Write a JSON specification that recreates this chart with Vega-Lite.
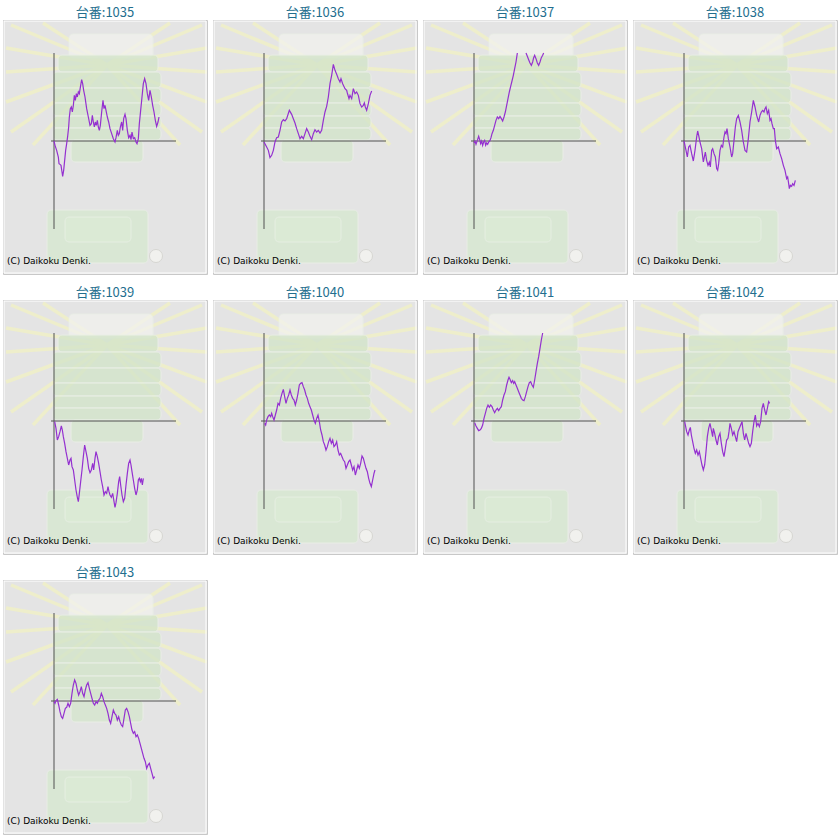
{
  "$schema": "https://vega.github.io/schema/vega-lite/v6.json",
  "background": "white",
  "padding": {"left": 2, "top": 6, "right": 0, "bottom": 0},
  "data": {"values": [
    {"p":"台番:1035","g":0,"d":0},{"p":"台番:1035","g":50,"d":-217},{"p":"台番:1035","g":133,"d":-467},{"p":"台番:1035","g":217,"d":-800},{"p":"台番:1035","g":250,"d":-1133},{"p":"台番:1035","g":300,"d":-1167},{"p":"台番:1035","g":350,"d":-1217},{"p":"台番:1035","g":400,"d":-1550},{"p":"台番:1035","g":433,"d":-1767},{"p":"台番:1035","g":483,"d":-1467},{"p":"台番:1035","g":533,"d":-967},{"p":"台番:1035","g":583,"d":-467},{"p":"台番:1035","g":633,"d":-133},{"p":"台番:1035","g":683,"d":233},{"p":"台番:1035","g":733,"d":700},{"p":"台番:1035","g":767,"d":1200},{"p":"台番:1035","g":817,"d":1617},{"p":"台番:1035","g":867,"d":1700},{"p":"台番:1035","g":917,"d":1450},{"p":"台番:1035","g":967,"d":1783},{"p":"台番:1035","g":1017,"d":2283},{"p":"台番:1035","g":1067,"d":2033},{"p":"台番:1035","g":1117,"d":2367},{"p":"台番:1035","g":1167,"d":2200},{"p":"台番:1035","g":1217,"d":2450},{"p":"台番:1035","g":1267,"d":2367},{"p":"台番:1035","g":1333,"d":2783},{"p":"台番:1035","g":1383,"d":3067},{"p":"台番:1035","g":1433,"d":2867},{"p":"台番:1035","g":1483,"d":2533},{"p":"台番:1035","g":1550,"d":2200},{"p":"台番:1035","g":1633,"d":1617},{"p":"台番:1035","g":1717,"d":1200},{"p":"台番:1035","g":1800,"d":783},{"p":"台番:1035","g":1867,"d":867},{"p":"台番:1035","g":1917,"d":1283},{"p":"台番:1035","g":1967,"d":950},{"p":"台番:1035","g":2017,"d":700},{"p":"台番:1035","g":2067,"d":950},{"p":"台番:1035","g":2117,"d":783},{"p":"台番:1035","g":2167,"d":1033},{"p":"台番:1035","g":2217,"d":700},{"p":"台番:1035","g":2267,"d":533},{"p":"台番:1035","g":2317,"d":783},{"p":"台番:1035","g":2383,"d":1450},{"p":"台番:1035","g":2450,"d":2033},{"p":"台番:1035","g":2500,"d":1617},{"p":"台番:1035","g":2550,"d":1783},{"p":"台番:1035","g":2600,"d":1533},{"p":"台番:1035","g":2667,"d":1200},{"p":"台番:1035","g":2733,"d":950},{"p":"台番:1035","g":2800,"d":617},{"p":"台番:1035","g":2883,"d":367},{"p":"台番:1035","g":2967,"d":117},{"p":"台番:1035","g":3050,"d":-50},{"p":"台番:1035","g":3100,"d":167},{"p":"台番:1035","g":3167,"d":533},{"p":"台番:1035","g":3217,"d":283},{"p":"台番:1035","g":3267,"d":367},{"p":"台番:1035","g":3317,"d":700},{"p":"台番:1035","g":3383,"d":950},{"p":"台番:1035","g":3433,"d":533},{"p":"台番:1035","g":3483,"d":1117},{"p":"台番:1035","g":3550,"d":1333},{"p":"台番:1035","g":3600,"d":1117},{"p":"台番:1035","g":3667,"d":533},{"p":"台番:1035","g":3733,"d":167},{"p":"台番:1035","g":3800,"d":283},{"p":"台番:1035","g":3850,"d":67},{"p":"台番:1035","g":3900,"d":450},{"p":"台番:1035","g":3967,"d":117},{"p":"台番:1035","g":4033,"d":167},{"p":"台番:1035","g":4100,"d":-50},{"p":"台番:1035","g":4150,"d":-133},{"p":"台番:1035","g":4217,"d":117},{"p":"台番:1035","g":4267,"d":867},{"p":"台番:1035","g":4333,"d":1533},{"p":"台番:1035","g":4400,"d":2200},{"p":"台番:1035","g":4467,"d":2867},{"p":"台番:1035","g":4533,"d":3117},{"p":"台番:1035","g":4600,"d":2867},{"p":"台番:1035","g":4667,"d":2367},{"p":"台番:1035","g":4733,"d":2033},{"p":"台番:1035","g":4800,"d":2533},{"p":"台番:1035","g":4867,"d":2200},{"p":"台番:1035","g":4933,"d":1783},{"p":"台番:1035","g":5000,"d":1450},{"p":"台番:1035","g":5067,"d":1033},{"p":"台番:1035","g":5133,"d":733},{"p":"台番:1035","g":5200,"d":950},{"p":"台番:1035","g":5250,"d":1200},

    {"p":"台番:1036","g":0,"d":-50},{"p":"台番:1036","g":133,"d":-300},{"p":"台番:1036","g":217,"d":-467},{"p":"台番:1036","g":300,"d":-833},{"p":"台番:1036","g":383,"d":-717},{"p":"台番:1036","g":467,"d":-467},{"p":"台番:1036","g":550,"d":-50},{"p":"台番:1036","g":633,"d":167},{"p":"台番:1036","g":717,"d":200},{"p":"台番:1036","g":800,"d":533},{"p":"台番:1036","g":883,"d":950},{"p":"台番:1036","g":967,"d":1067},{"p":"台番:1036","g":1050,"d":1000},{"p":"台番:1036","g":1133,"d":1117},{"p":"台番:1036","g":1267,"d":1533},{"p":"台番:1036","g":1383,"d":1333},{"p":"台番:1036","g":1467,"d":1117},{"p":"台番:1036","g":1550,"d":900},{"p":"台番:1036","g":1633,"d":617},{"p":"台番:1036","g":1717,"d":367},{"p":"台番:1036","g":1800,"d":117},{"p":"台番:1036","g":1883,"d":233},{"p":"台番:1036","g":1967,"d":117},{"p":"台番:1036","g":2050,"d":367},{"p":"台番:1036","g":2133,"d":617},{"p":"台番:1036","g":2217,"d":450},{"p":"台番:1036","g":2300,"d":233},{"p":"台番:1036","g":2383,"d":67},{"p":"台番:1036","g":2467,"d":367},{"p":"台番:1036","g":2550,"d":567},{"p":"台番:1036","g":2633,"d":450},{"p":"台番:1036","g":2717,"d":533},{"p":"台番:1036","g":2800,"d":400},{"p":"台番:1036","g":2883,"d":533},{"p":"台番:1036","g":2967,"d":1033},{"p":"台番:1036","g":3050,"d":1450},{"p":"台番:1036","g":3133,"d":1733},{"p":"台番:1036","g":3217,"d":2200},{"p":"台番:1036","g":3300,"d":2867},{"p":"台番:1036","g":3383,"d":3283},{"p":"台番:1036","g":3467,"d":3833},{"p":"台番:1036","g":3550,"d":3533},{"p":"台番:1036","g":3633,"d":3333},{"p":"台番:1036","g":3717,"d":3117},{"p":"台番:1036","g":3800,"d":2950},{"p":"台番:1036","g":3850,"d":3117},{"p":"台番:1036","g":3933,"d":2867},{"p":"台番:1036","g":4050,"d":2617},{"p":"台番:1036","g":4133,"d":2533},{"p":"台番:1036","g":4167,"d":2400},{"p":"台番:1036","g":4250,"d":2117},{"p":"台番:1036","g":4300,"d":2283},{"p":"台番:1036","g":4383,"d":2117},{"p":"台番:1036","g":4467,"d":2617},{"p":"台番:1036","g":4550,"d":2367},{"p":"台番:1036","g":4633,"d":2450},{"p":"台番:1036","g":4717,"d":2283},{"p":"台番:1036","g":4800,"d":1867},{"p":"台番:1036","g":4883,"d":1700},{"p":"台番:1036","g":4967,"d":1783},{"p":"台番:1036","g":5017,"d":1900},{"p":"台番:1036","g":5067,"d":1700},{"p":"台番:1036","g":5133,"d":1533},{"p":"台番:1036","g":5217,"d":1867},{"p":"台番:1036","g":5300,"d":2283},{"p":"台番:1036","g":5383,"d":2500},

    {"p":"台番:1037","s":"a","g":0,"d":-100},{"p":"台番:1037","s":"a","g":50,"d":0},{"p":"台番:1037","s":"a","g":100,"d":-167},{"p":"台番:1037","s":"a","g":167,"d":33},{"p":"台番:1037","s":"a","g":233,"d":233},{"p":"台番:1037","s":"a","g":283,"d":67},{"p":"台番:1037","s":"a","g":333,"d":-133},{"p":"台番:1037","s":"a","g":383,"d":0},{"p":"台番:1037","s":"a","g":433,"d":-217},{"p":"台番:1037","s":"a","g":483,"d":-50},{"p":"台番:1037","s":"a","g":533,"d":33},{"p":"台番:1037","s":"a","g":583,"d":-217},{"p":"台番:1037","s":"a","g":633,"d":-100},{"p":"台番:1037","s":"a","g":683,"d":-167},{"p":"台番:1037","s":"a","g":733,"d":-50},{"p":"台番:1037","s":"a","g":800,"d":33},{"p":"台番:1037","s":"a","g":850,"d":167},{"p":"台番:1037","s":"a","g":900,"d":367},{"p":"台番:1037","s":"a","g":967,"d":533},{"p":"台番:1037","s":"a","g":1033,"d":783},{"p":"台番:1037","s":"a","g":1100,"d":1033},{"p":"台番:1037","s":"a","g":1167,"d":1200},{"p":"台番:1037","s":"a","g":1233,"d":1117},{"p":"台番:1037","s":"a","g":1300,"d":1233},{"p":"台番:1037","s":"a","g":1367,"d":1117},{"p":"台番:1037","s":"a","g":1433,"d":1000},{"p":"台番:1037","s":"a","g":1500,"d":1200},{"p":"台番:1037","s":"a","g":1567,"d":1450},{"p":"台番:1037","s":"a","g":1633,"d":1783},{"p":"台番:1037","s":"a","g":1700,"d":2117},{"p":"台番:1037","s":"a","g":1767,"d":2450},{"p":"台番:1037","s":"a","g":1833,"d":2733},{"p":"台番:1037","s":"a","g":1900,"d":3000},{"p":"台番:1037","s":"a","g":1967,"d":3283},{"p":"台番:1037","s":"a","g":2033,"d":3617},{"p":"台番:1037","s":"a","g":2100,"d":3950},{"p":"台番:1037","s":"a","g":2150,"d":4283},{"p":"台番:1037","s":"a","g":2167,"d":4400},
    {"p":"台番:1037","s":"b","g":2600,"d":4400},{"p":"台番:1037","s":"b","g":2667,"d":4233},{"p":"台番:1037","s":"b","g":2733,"d":4067},{"p":"台番:1037","s":"b","g":2800,"d":3900},{"p":"台番:1037","s":"b","g":2867,"d":3783},{"p":"台番:1037","s":"b","g":2933,"d":3950},{"p":"台番:1037","s":"b","g":2983,"d":4167},{"p":"台番:1037","s":"b","g":3033,"d":4283},{"p":"台番:1037","s":"b","g":3100,"d":4117},{"p":"台番:1037","s":"b","g":3167,"d":3900},{"p":"台番:1037","s":"b","g":3233,"d":3783},{"p":"台番:1037","s":"b","g":3300,"d":3950},{"p":"台番:1037","s":"b","g":3367,"d":4167},{"p":"台番:1037","s":"b","g":3433,"d":4283},{"p":"台番:1037","s":"b","g":3483,"d":4400},

    {"p":"台番:1038","g":0,"d":0},{"p":"台番:1038","g":100,"d":-467},{"p":"台番:1038","g":167,"d":-800},{"p":"台番:1038","g":233,"d":-300},{"p":"台番:1038","g":300,"d":-217},{"p":"台番:1038","g":383,"d":-633},{"p":"台番:1038","g":467,"d":-1000},{"p":"台番:1038","g":550,"d":-467},{"p":"台番:1038","g":633,"d":200},{"p":"台番:1038","g":683,"d":500},{"p":"台番:1038","g":733,"d":283},{"p":"台番:1038","g":800,"d":-50},{"p":"台番:1038","g":883,"d":-383},{"p":"台番:1038","g":967,"d":-1050},{"p":"台番:1038","g":1017,"d":-800},{"p":"台番:1038","g":1067,"d":-550},{"p":"台番:1038","g":1133,"d":-967},{"p":"台番:1038","g":1200,"d":-1217},{"p":"台番:1038","g":1267,"d":-1050},{"p":"台番:1038","g":1317,"d":-1300},{"p":"台番:1038","g":1383,"d":-467},{"p":"台番:1038","g":1433,"d":-383},{"p":"台番:1038","g":1500,"d":-633},{"p":"台番:1038","g":1567,"d":-800},{"p":"台番:1038","g":1633,"d":-1383},{"p":"台番:1038","g":1683,"d":-1467},{"p":"台番:1038","g":1733,"d":-1133},{"p":"台番:1038","g":1800,"d":-467},{"p":"台番:1038","g":1867,"d":-217},{"p":"台番:1038","g":1933,"d":-300},{"p":"台番:1038","g":2000,"d":200},{"p":"台番:1038","g":2050,"d":450},{"p":"台番:1038","g":2100,"d":367},{"p":"台番:1038","g":2150,"d":617},{"p":"台番:1038","g":2217,"d":117},{"p":"台番:1038","g":2300,"d":-300},{"p":"台番:1038","g":2383,"d":-800},{"p":"台番:1038","g":2433,"d":-633},{"p":"台番:1038","g":2500,"d":33},{"p":"台番:1038","g":2567,"d":700},{"p":"台番:1038","g":2633,"d":1117},{"p":"台番:1038","g":2717,"d":1283},{"p":"台番:1038","g":2800,"d":950},{"p":"台番:1038","g":2883,"d":533},{"p":"台番:1038","g":2967,"d":-50},{"p":"台番:1038","g":3050,"d":-467},{"p":"台番:1038","g":3133,"d":-550},{"p":"台番:1038","g":3217,"d":117},{"p":"台番:1038","g":3300,"d":950},{"p":"台番:1038","g":3383,"d":1450},{"p":"台番:1038","g":3467,"d":2033},{"p":"台番:1038","g":3550,"d":1700},{"p":"台番:1038","g":3633,"d":1283},{"p":"台番:1038","g":3733,"d":950},{"p":"台番:1038","g":3800,"d":1283},{"p":"台番:1038","g":3867,"d":1450},{"p":"台番:1038","g":3933,"d":1533},{"p":"台番:1038","g":4000,"d":1450},{"p":"台番:1038","g":4050,"d":1617},{"p":"台番:1038","g":4100,"d":1700},{"p":"台番:1038","g":4167,"d":1367},{"p":"台番:1038","g":4233,"d":1533},{"p":"台番:1038","g":4300,"d":1033},{"p":"台番:1038","g":4350,"d":1117},{"p":"台番:1038","g":4400,"d":867},{"p":"台番:1038","g":4467,"d":617},{"p":"台番:1038","g":4517,"d":617},{"p":"台番:1038","g":4567,"d":33},{"p":"台番:1038","g":4633,"d":-383},{"p":"台番:1038","g":4717,"d":-300},{"p":"台番:1038","g":4800,"d":-633},{"p":"台番:1038","g":4883,"d":-883},{"p":"台番:1038","g":4967,"d":-1217},{"p":"台番:1038","g":5050,"d":-1467},{"p":"台番:1038","g":5133,"d":-1883},{"p":"台番:1038","g":5183,"d":-1800},{"p":"台番:1038","g":5233,"d":-2133},{"p":"台番:1038","g":5267,"d":-2383},{"p":"台番:1038","g":5317,"d":-2217},{"p":"台番:1038","g":5383,"d":-2267},{"p":"台番:1038","g":5433,"d":-2133},{"p":"台番:1038","g":5500,"d":-2217},{"p":"台番:1038","g":5567,"d":-1967},

    {"p":"台番:1039","g":33,"d":-33},{"p":"台番:1039","g":100,"d":-367},{"p":"台番:1039","g":167,"d":-950},{"p":"台番:1039","g":233,"d":-783},{"p":"台番:1039","g":300,"d":-533},{"p":"台番:1039","g":367,"d":-250},{"p":"台番:1039","g":417,"d":-450},{"p":"台番:1039","g":467,"d":-783},{"p":"台番:1039","g":533,"d":-1117},{"p":"台番:1039","g":600,"d":-1533},{"p":"台番:1039","g":667,"d":-1867},{"p":"台番:1039","g":733,"d":-2200},{"p":"台番:1039","g":800,"d":-1950},{"p":"台番:1039","g":850,"d":-1867},{"p":"台番:1039","g":900,"d":-2283},{"p":"台番:1039","g":967,"d":-2450},{"p":"台番:1039","g":1033,"d":-2950},{"p":"台番:1039","g":1100,"d":-3450},{"p":"台番:1039","g":1167,"d":-3817},{"p":"台番:1039","g":1217,"d":-4033},{"p":"台番:1039","g":1267,"d":-3617},{"p":"台番:1039","g":1333,"d":-3033},{"p":"台番:1039","g":1400,"d":-2450},{"p":"台番:1039","g":1467,"d":-1783},{"p":"台番:1039","g":1533,"d":-1200},{"p":"台番:1039","g":1600,"d":-1533},{"p":"台番:1039","g":1667,"d":-1867},{"p":"台番:1039","g":1733,"d":-2367},{"p":"台番:1039","g":1800,"d":-2583},{"p":"台番:1039","g":1867,"d":-2450},{"p":"台番:1039","g":1933,"d":-2117},{"p":"台番:1039","g":1983,"d":-2450},{"p":"台番:1039","g":2050,"d":-1867},{"p":"台番:1039","g":2100,"d":-1533},{"p":"台番:1039","g":2167,"d":-1783},{"p":"台番:1039","g":2233,"d":-2117},{"p":"台番:1039","g":2300,"d":-2533},{"p":"台番:1039","g":2367,"d":-2950},{"p":"台番:1039","g":2433,"d":-3283},{"p":"台番:1039","g":2500,"d":-3700},{"p":"台番:1039","g":2567,"d":-3533},{"p":"台番:1039","g":2633,"d":-3617},{"p":"台番:1039","g":2700,"d":-3283},{"p":"台番:1039","g":2750,"d":-3533},{"p":"台番:1039","g":2800,"d":-3700},{"p":"台番:1039","g":2867,"d":-3817},{"p":"台番:1039","g":2933,"d":-3617},{"p":"台番:1039","g":2983,"d":-3917},{"p":"台番:1039","g":3050,"d":-4317},{"p":"台番:1039","g":3100,"d":-4083},{"p":"台番:1039","g":3167,"d":-3617},{"p":"台番:1039","g":3233,"d":-3033},{"p":"台番:1039","g":3283,"d":-2783},{"p":"台番:1039","g":3333,"d":-3200},{"p":"台番:1039","g":3400,"d":-3700},{"p":"台番:1039","g":3467,"d":-4033},{"p":"台番:1039","g":3533,"d":-3867},{"p":"台番:1039","g":3600,"d":-3200},{"p":"台番:1039","g":3667,"d":-2617},{"p":"台番:1039","g":3733,"d":-2117},{"p":"台番:1039","g":3800,"d":-1950},{"p":"台番:1039","g":3850,"d":-2200},{"p":"台番:1039","g":3900,"d":-2533},{"p":"台番:1039","g":3967,"d":-2950},{"p":"台番:1039","g":4033,"d":-3367},{"p":"台番:1039","g":4100,"d":-3700},{"p":"台番:1039","g":4167,"d":-3450},{"p":"台番:1039","g":4217,"d":-2950},{"p":"台番:1039","g":4267,"d":-2867},{"p":"台番:1039","g":4317,"d":-3033},{"p":"台番:1039","g":4367,"d":-2867},{"p":"台番:1039","g":4417,"d":-3200},{"p":"台番:1039","g":4467,"d":-2867},

    {"p":"台番:1040","g":33,"d":-117},{"p":"台番:1040","g":83,"d":-200},{"p":"台番:1040","g":133,"d":50},{"p":"台番:1040","g":200,"d":217},{"p":"台番:1040","g":267,"d":300},{"p":"台番:1040","g":333,"d":217},{"p":"台番:1040","g":383,"d":383},{"p":"台番:1040","g":433,"d":217},{"p":"台番:1040","g":500,"d":50},{"p":"台番:1040","g":567,"d":300},{"p":"台番:1040","g":633,"d":550},{"p":"台番:1040","g":700,"d":883},{"p":"台番:1040","g":767,"d":800},{"p":"台番:1040","g":833,"d":1133},{"p":"台番:1040","g":900,"d":1383},{"p":"台番:1040","g":967,"d":1583},{"p":"台番:1040","g":1033,"d":1217},{"p":"台番:1040","g":1100,"d":883},{"p":"台番:1040","g":1167,"d":1133},{"p":"台番:1040","g":1233,"d":1300},{"p":"台番:1040","g":1300,"d":1550},{"p":"台番:1040","g":1367,"d":1300},{"p":"台番:1040","g":1433,"d":1133},{"p":"台番:1040","g":1500,"d":1050},{"p":"台番:1040","g":1567,"d":800},{"p":"台番:1040","g":1633,"d":1050},{"p":"台番:1040","g":1700,"d":1383},{"p":"台番:1040","g":1767,"d":1800},{"p":"台番:1040","g":1833,"d":1883},{"p":"台番:1040","g":1900,"d":1917},{"p":"台番:1040","g":1967,"d":1717},{"p":"台番:1040","g":2033,"d":1550},{"p":"台番:1040","g":2100,"d":1300},{"p":"台番:1040","g":2167,"d":1133},{"p":"台番:1040","g":2233,"d":883},{"p":"台番:1040","g":2300,"d":717},{"p":"台番:1040","g":2367,"d":550},{"p":"台番:1040","g":2433,"d":300},{"p":"台番:1040","g":2500,"d":50},{"p":"台番:1040","g":2567,"d":-117},{"p":"台番:1040","g":2633,"d":133},{"p":"台番:1040","g":2700,"d":300},{"p":"台番:1040","g":2767,"d":-33},{"p":"台番:1040","g":2833,"d":-450},{"p":"台番:1040","g":2900,"d":-700},{"p":"台番:1040","g":2967,"d":-1033},{"p":"台番:1040","g":3033,"d":-1200},{"p":"台番:1040","g":3100,"d":-1450},{"p":"台番:1040","g":3167,"d":-1283},{"p":"台番:1040","g":3233,"d":-1033},{"p":"台番:1040","g":3300,"d":-867},{"p":"台番:1040","g":3367,"d":-1117},{"p":"台番:1040","g":3433,"d":-950},{"p":"台番:1040","g":3500,"d":-1283},{"p":"台番:1040","g":3567,"d":-1200},{"p":"台番:1040","g":3633,"d":-1033},{"p":"台番:1040","g":3700,"d":-1450},{"p":"台番:1040","g":3767,"d":-1700},{"p":"台番:1040","g":3833,"d":-1617},{"p":"台番:1040","g":3900,"d":-1783},{"p":"台番:1040","g":3967,"d":-1950},{"p":"台番:1040","g":4033,"d":-2033},{"p":"台番:1040","g":4100,"d":-2367},{"p":"台番:1040","g":4167,"d":-2200},{"p":"台番:1040","g":4233,"d":-2033},{"p":"台番:1040","g":4300,"d":-1950},{"p":"台番:1040","g":4367,"d":-2200},{"p":"台番:1040","g":4433,"d":-2450},{"p":"台番:1040","g":4500,"d":-2283},{"p":"台番:1040","g":4567,"d":-2700},{"p":"台番:1040","g":4633,"d":-2450},{"p":"台番:1040","g":4700,"d":-2200},{"p":"台番:1040","g":4767,"d":-2367},{"p":"台番:1040","g":4833,"d":-2117},{"p":"台番:1040","g":4900,"d":-1750},{"p":"台番:1040","g":4967,"d":-1867},{"p":"台番:1040","g":5033,"d":-2117},{"p":"台番:1040","g":5100,"d":-2367},{"p":"台番:1040","g":5167,"d":-2533},{"p":"台番:1040","g":5233,"d":-2867},{"p":"台番:1040","g":5300,"d":-3117},{"p":"台番:1040","g":5367,"d":-3283},{"p":"台番:1040","g":5433,"d":-2950},{"p":"台番:1040","g":5500,"d":-2617},{"p":"台番:1040","g":5550,"d":-2450},

    {"p":"台番:1041","g":33,"d":-83},{"p":"台番:1041","g":100,"d":-250},{"p":"台番:1041","g":167,"d":-367},{"p":"台番:1041","g":233,"d":-483},{"p":"台番:1041","g":300,"d":-450},{"p":"台番:1041","g":367,"d":-367},{"p":"台番:1041","g":433,"d":-200},{"p":"台番:1041","g":500,"d":133},{"p":"台番:1041","g":567,"d":383},{"p":"台番:1041","g":633,"d":633},{"p":"台番:1041","g":700,"d":800},{"p":"台番:1041","g":767,"d":683},{"p":"台番:1041","g":833,"d":800},{"p":"台番:1041","g":900,"d":717},{"p":"台番:1041","g":967,"d":550},{"p":"台番:1041","g":1033,"d":417},{"p":"台番:1041","g":1100,"d":550},{"p":"台番:1041","g":1167,"d":633},{"p":"台番:1041","g":1233,"d":517},{"p":"台番:1041","g":1300,"d":633},{"p":"台番:1041","g":1367,"d":717},{"p":"台番:1041","g":1433,"d":1050},{"p":"台番:1041","g":1500,"d":1300},{"p":"台番:1041","g":1567,"d":1467},{"p":"台番:1041","g":1633,"d":1800},{"p":"台番:1041","g":1700,"d":2050},{"p":"台番:1041","g":1750,"d":2183},{"p":"台番:1041","g":1800,"d":2083},{"p":"台番:1041","g":1867,"d":1917},{"p":"台番:1041","g":1933,"d":2017},{"p":"台番:1041","g":1983,"d":1883},{"p":"台番:1041","g":2033,"d":1967},{"p":"台番:1041","g":2100,"d":1800},{"p":"台番:1041","g":2167,"d":1633},{"p":"台番:1041","g":2233,"d":1467},{"p":"台番:1041","g":2300,"d":1300},{"p":"台番:1041","g":2367,"d":1133},{"p":"台番:1041","g":2433,"d":1050},{"p":"台番:1041","g":2500,"d":1017},{"p":"台番:1041","g":2567,"d":1217},{"p":"台番:1041","g":2633,"d":1467},{"p":"台番:1041","g":2700,"d":1717},{"p":"台番:1041","g":2767,"d":1917},{"p":"台番:1041","g":2833,"d":1967},{"p":"台番:1041","g":2900,"d":1800},{"p":"台番:1041","g":2967,"d":1683},{"p":"台番:1041","g":3033,"d":2050},{"p":"台番:1041","g":3100,"d":2467},{"p":"台番:1041","g":3167,"d":2883},{"p":"台番:1041","g":3233,"d":3217},{"p":"台番:1041","g":3300,"d":3633},{"p":"台番:1041","g":3367,"d":4050},{"p":"台番:1041","g":3433,"d":4400},

    {"p":"台番:1042","g":33,"d":-33},{"p":"台番:1042","g":83,"d":-283},{"p":"台番:1042","g":133,"d":-533},{"p":"台番:1042","g":200,"d":-700},{"p":"台番:1042","g":267,"d":-450},{"p":"台番:1042","g":317,"d":-317},{"p":"台番:1042","g":367,"d":-700},{"p":"台番:1042","g":433,"d":-1033},{"p":"台番:1042","g":500,"d":-1367},{"p":"台番:1042","g":567,"d":-1617},{"p":"台番:1042","g":633,"d":-1450},{"p":"台番:1042","g":700,"d":-1700},{"p":"台番:1042","g":767,"d":-1533},{"p":"台番:1042","g":833,"d":-1867},{"p":"台番:1042","g":900,"d":-2200},{"p":"台番:1042","g":967,"d":-2450},{"p":"台番:1042","g":1033,"d":-2200},{"p":"台番:1042","g":1100,"d":-1533},{"p":"台番:1042","g":1167,"d":-783},{"p":"台番:1042","g":1233,"d":-367},{"p":"台番:1042","g":1300,"d":-117},{"p":"台番:1042","g":1367,"d":-450},{"p":"台番:1042","g":1433,"d":-783},{"p":"台番:1042","g":1467,"d":-367},{"p":"台番:1042","g":1533,"d":-617},{"p":"台番:1042","g":1600,"d":-950},{"p":"台番:1042","g":1667,"d":-1200},{"p":"台番:1042","g":1733,"d":-783},{"p":"台番:1042","g":1800,"d":-617},{"p":"台番:1042","g":1867,"d":-1117},{"p":"台番:1042","g":1933,"d":-1533},{"p":"台番:1042","g":2000,"d":-1783},{"p":"台番:1042","g":2067,"d":-1367},{"p":"台番:1042","g":2133,"d":-950},{"p":"台番:1042","g":2200,"d":-867},{"p":"台番:1042","g":2250,"d":-533},{"p":"台番:1042","g":2300,"d":-117},{"p":"台番:1042","g":2367,"d":-367},{"p":"台番:1042","g":2433,"d":-700},{"p":"台番:1042","g":2500,"d":-533},{"p":"台番:1042","g":2567,"d":-783},{"p":"台番:1042","g":2633,"d":-1033},{"p":"台番:1042","g":2700,"d":-533},{"p":"台番:1042","g":2767,"d":-367},{"p":"台番:1042","g":2833,"d":-200},{"p":"台番:1042","g":2900,"d":-33},{"p":"台番:1042","g":2967,"d":-617},{"p":"台番:1042","g":3033,"d":-950},{"p":"台番:1042","g":3100,"d":-617},{"p":"台番:1042","g":3167,"d":-867},{"p":"台番:1042","g":3233,"d":-1117},{"p":"台番:1042","g":3300,"d":-1283},{"p":"台番:1042","g":3367,"d":-1117},{"p":"台番:1042","g":3433,"d":-533},{"p":"台番:1042","g":3500,"d":-33},{"p":"台番:1042","g":3567,"d":300},{"p":"台番:1042","g":3633,"d":-250},{"p":"台番:1042","g":3700,"d":-117},{"p":"台番:1042","g":3767,"d":-283},{"p":"台番:1042","g":3833,"d":-33},{"p":"台番:1042","g":3900,"d":633},{"p":"台番:1042","g":3967,"d":883},{"p":"台番:1042","g":4033,"d":550},{"p":"台番:1042","g":4100,"d":300},{"p":"台番:1042","g":4167,"d":633},{"p":"台番:1042","g":4233,"d":967},{"p":"台番:1042","g":4283,"d":883},

    {"p":"台番:1043","g":0,"d":-33},{"p":"台番:1043","g":50,"d":-117},{"p":"台番:1043","g":100,"d":17},{"p":"台番:1043","g":167,"d":83},{"p":"台番:1043","g":233,"d":-200},{"p":"台番:1043","g":300,"d":-533},{"p":"台番:1043","g":367,"d":-783},{"p":"台番:1043","g":433,"d":-867},{"p":"台番:1043","g":500,"d":-617},{"p":"台番:1043","g":567,"d":-367},{"p":"台番:1043","g":633,"d":-317},{"p":"台番:1043","g":700,"d":-117},{"p":"台番:1043","g":767,"d":-283},{"p":"台番:1043","g":833,"d":-117},{"p":"台番:1043","g":900,"d":383},{"p":"台番:1043","g":967,"d":800},{"p":"台番:1043","g":1033,"d":1050},{"p":"台番:1043","g":1100,"d":883},{"p":"台番:1043","g":1167,"d":550},{"p":"台番:1043","g":1233,"d":300},{"p":"台番:1043","g":1300,"d":467},{"p":"台番:1043","g":1367,"d":717},{"p":"台番:1043","g":1433,"d":383},{"p":"台番:1043","g":1500,"d":217},{"p":"台番:1043","g":1567,"d":550},{"p":"台番:1043","g":1633,"d":800},{"p":"台番:1043","g":1700,"d":917},{"p":"台番:1043","g":1767,"d":633},{"p":"台番:1043","g":1833,"d":383},{"p":"台番:1043","g":1900,"d":133},{"p":"台番:1043","g":1967,"d":-117},{"p":"台番:1043","g":2033,"d":-200},{"p":"台番:1043","g":2100,"d":-33},{"p":"台番:1043","g":2167,"d":-117},{"p":"台番:1043","g":2233,"d":50},{"p":"台番:1043","g":2300,"d":133},{"p":"台番:1043","g":2367,"d":383},{"p":"台番:1043","g":2433,"d":217},{"p":"台番:1043","g":2500,"d":-33},{"p":"台番:1043","g":2567,"d":-200},{"p":"台番:1043","g":2633,"d":-367},{"p":"台番:1043","g":2700,"d":-617},{"p":"台番:1043","g":2767,"d":-950},{"p":"台番:1043","g":2833,"d":-1117},{"p":"台番:1043","g":2900,"d":-783},{"p":"台番:1043","g":2967,"d":-450},{"p":"台番:1043","g":3033,"d":-617},{"p":"台番:1043","g":3100,"d":-700},{"p":"台番:1043","g":3167,"d":-950},{"p":"台番:1043","g":3233,"d":-783},{"p":"台番:1043","g":3300,"d":-1033},{"p":"台番:1043","g":3367,"d":-1200},{"p":"台番:1043","g":3433,"d":-1283},{"p":"台番:1043","g":3500,"d":-867},{"p":"台番:1043","g":3567,"d":-450},{"p":"台番:1043","g":3633,"d":-367},{"p":"台番:1043","g":3700,"d":-533},{"p":"台番:1043","g":3767,"d":-783},{"p":"台番:1043","g":3833,"d":-1117},{"p":"台番:1043","g":3900,"d":-1450},{"p":"台番:1043","g":3967,"d":-1617},{"p":"台番:1043","g":4033,"d":-1533},{"p":"台番:1043","g":4100,"d":-1783},{"p":"台番:1043","g":4167,"d":-1700},{"p":"台番:1043","g":4233,"d":-1867},{"p":"台番:1043","g":4300,"d":-2117},{"p":"台番:1043","g":4367,"d":-2367},{"p":"台番:1043","g":4433,"d":-2617},{"p":"台番:1043","g":4500,"d":-2867},{"p":"台番:1043","g":4567,"d":-3033},{"p":"台番:1043","g":4633,"d":-3367},{"p":"台番:1043","g":4700,"d":-3200},{"p":"台番:1043","g":4767,"d":-3117},{"p":"台番:1043","g":4833,"d":-3367},{"p":"台番:1043","g":4900,"d":-3617},{"p":"台番:1043","g":4967,"d":-3867},{"p":"台番:1043","g":5033,"d":-3783}
  ]},
  "datasets": {
    "rays": [
      {"x":2650,"y":3800,"x2":-2150,"y2":5800},{"x":2650,"y":3800,"x2":-2400,"y2":4650},{"x":2650,"y":3800,"x2":-2400,"y2":3450},{"x":2650,"y":3800,"x2":-2400,"y2":1950},{"x":2650,"y":3800,"x2":-2150,"y2":450},{"x":2650,"y":3800,"x2":-1050,"y2":-200},{"x":2650,"y":3800,"x2":-550,"y2":5900},
      {"x":2650,"y":3800,"x2":7400,"y2":5800},{"x":2650,"y":3800,"x2":7650,"y2":4650},{"x":2650,"y":3800,"x2":7650,"y2":3450},{"x":2650,"y":3800,"x2":7650,"y2":1950},{"x":2650,"y":3800,"x2":7400,"y2":450},{"x":2650,"y":3800,"x2":6300,"y2":-200},{"x":2650,"y":3800,"x2":5800,"y2":5900}
    ],
    "parts": [
      {"part":"pile","x":750,"x2":4950,"y":5350,"y2":4150},
      {"part":"slat","x":200,"x2":5200,"y":4300,"y2":3450},
      {"part":"slat","x":-50,"x2":5350,"y":3450,"y2":2650},
      {"part":"slat","x":-50,"x2":5350,"y":2650,"y2":1900},
      {"part":"slat","x":-50,"x2":5350,"y":1900,"y2":1250},
      {"part":"slat","x":-50,"x2":5350,"y":1250,"y2":650},
      {"part":"slat","x":-50,"x2":5350,"y":650,"y2":50},
      {"part":"base","x":850,"x2":4450,"y":50,"y2":-1050},
      {"part":"tray","x":-350,"x2":4700,"y":-3450,"y2":-6100},
      {"part":"trayin","x":550,"x2":3850,"y":-3800,"y2":-5050}
    ],
    "coin": [{"x":5100,"y":-5750}],
    "axes": [{"x":0,"x2":0,"y":-4400,"y2":4400},{"x":-150,"x2":6100,"y":0,"y2":0}],
    "frame": [{"x":-2500,"x2":7600,"y":-6600,"y2":6000}],
    "credit": [{"t":"(C) Daikoku Denki.","x":-2350,"y":-6000}]
  },
  "facet": {
    "field": "p", "type": "nominal", "title": null,
    "header": {"labelFontSize": 13, "labelColor": "#236e8e", "labelFont": "Noto Sans CJK JP", "labelPadding": 0}
  },
  "columns": 4,
  "spacing": {"row": 11, "column": 4},
  "spec": {
    "width": 204,
    "height": 254,
    "layer": [
      {
        "data": {"name": "rays"},
        "mark": {"type": "rule", "color": "#eeeecb", "strokeWidth": 3.5, "clip": true},
        "encoding": {
          "x": {"field": "x", "type": "quantitative", "scale": {"domain": [-2550, 7650], "nice": false, "zero": false}, "axis": null},
          "y": {"field": "y", "type": "quantitative", "scale": {"domain": [-6650, 6050], "nice": false, "zero": false}, "axis": null},
          "x2": {"field": "x2"},
          "y2": {"field": "y2"}
        }
      },
      {
        "data": {"name": "parts"},
        "mark": {"type": "rect", "cornerRadius": 4, "stroke": "#ebf1e7", "strokeWidth": 1, "opacity": 0.75},
        "encoding": {
          "x": {"field": "x", "type": "quantitative", "scale": {"domain": [-2550, 7650], "nice": false, "zero": false}, "axis": null},
          "y": {"field": "y", "type": "quantitative", "scale": {"domain": [-6650, 6050], "nice": false, "zero": false}, "axis": null},
          "x2": {"field": "x2"},
          "y2": {"field": "y2"},
          "color": {"field": "part", "type": "nominal", "legend": null,
            "scale": {"domain": ["pile", "slat", "base", "tray", "trayin"], "range": ["#f2f2ee", "#d2e4c9", "#d5e6cd", "#d6e8cf", "#dcecd6"]}}
        }
      },
      {
        "data": {"name": "coin"},
        "mark": {"type": "point", "shape": "circle", "filled": true, "size": 170, "color": "#f1f1ee", "stroke": "#d6d6d2", "strokeWidth": 1, "opacity": 1},
        "encoding": {
          "x": {"field": "x", "type": "quantitative", "scale": {"domain": [-2550, 7650], "nice": false, "zero": false}, "axis": null},
          "y": {"field": "y", "type": "quantitative", "scale": {"domain": [-6650, 6050], "nice": false, "zero": false}, "axis": null}
        }
      },
      {
        "data": {"name": "frame"},
        "mark": {"type": "rect", "filled": false, "color": "#ffffff", "strokeWidth": 1},
        "encoding": {
          "x": {"field": "x", "type": "quantitative", "scale": {"domain": [-2550, 7650], "nice": false, "zero": false}, "axis": null},
          "y": {"field": "y", "type": "quantitative", "scale": {"domain": [-6650, 6050], "nice": false, "zero": false}, "axis": null},
          "x2": {"field": "x2"},
          "y2": {"field": "y2"}
        }
      },
      {
        "data": {"name": "axes"},
        "mark": {"type": "rule", "color": "#505050", "strokeWidth": 1},
        "encoding": {
          "x": {"field": "x", "type": "quantitative", "scale": {"domain": [-2550, 7650], "nice": false, "zero": false}, "axis": null},
          "y": {"field": "y", "type": "quantitative", "scale": {"domain": [-6650, 6050], "nice": false, "zero": false}, "axis": null},
          "x2": {"field": "x2"},
          "y2": {"field": "y2"}
        }
      },
      {
        "mark": {"type": "line", "color": "#9430d0", "strokeWidth": 1.2, "clip": true},
        "encoding": {
          "x": {"field": "g", "type": "quantitative", "scale": {"domain": [-2550, 7650], "nice": false, "zero": false}, "axis": null},
          "y": {"field": "d", "type": "quantitative", "scale": {"domain": [-6650, 6050], "nice": false, "zero": false}, "axis": null},
          "detail": {"field": "s"},
          "order": {"field": "g", "type": "quantitative"}
        }
      },
      {
        "data": {"name": "credit"},
        "mark": {"type": "text", "align": "left", "baseline": "middle", "font": "DejaVu Sans", "fontSize": 9, "color": "#000000"},
        "encoding": {
          "x": {"field": "x", "type": "quantitative", "scale": {"domain": [-2550, 7650], "nice": false, "zero": false}, "axis": null},
          "y": {"field": "y", "type": "quantitative", "scale": {"domain": [-6650, 6050], "nice": false, "zero": false}, "axis": null},
          "text": {"field": "t"}
        }
      }
    ]
  },
  "config": {
    "view": {"fill": "#e4e4e4", "stroke": "#c8c8c8", "strokeWidth": 1}
  }
}
